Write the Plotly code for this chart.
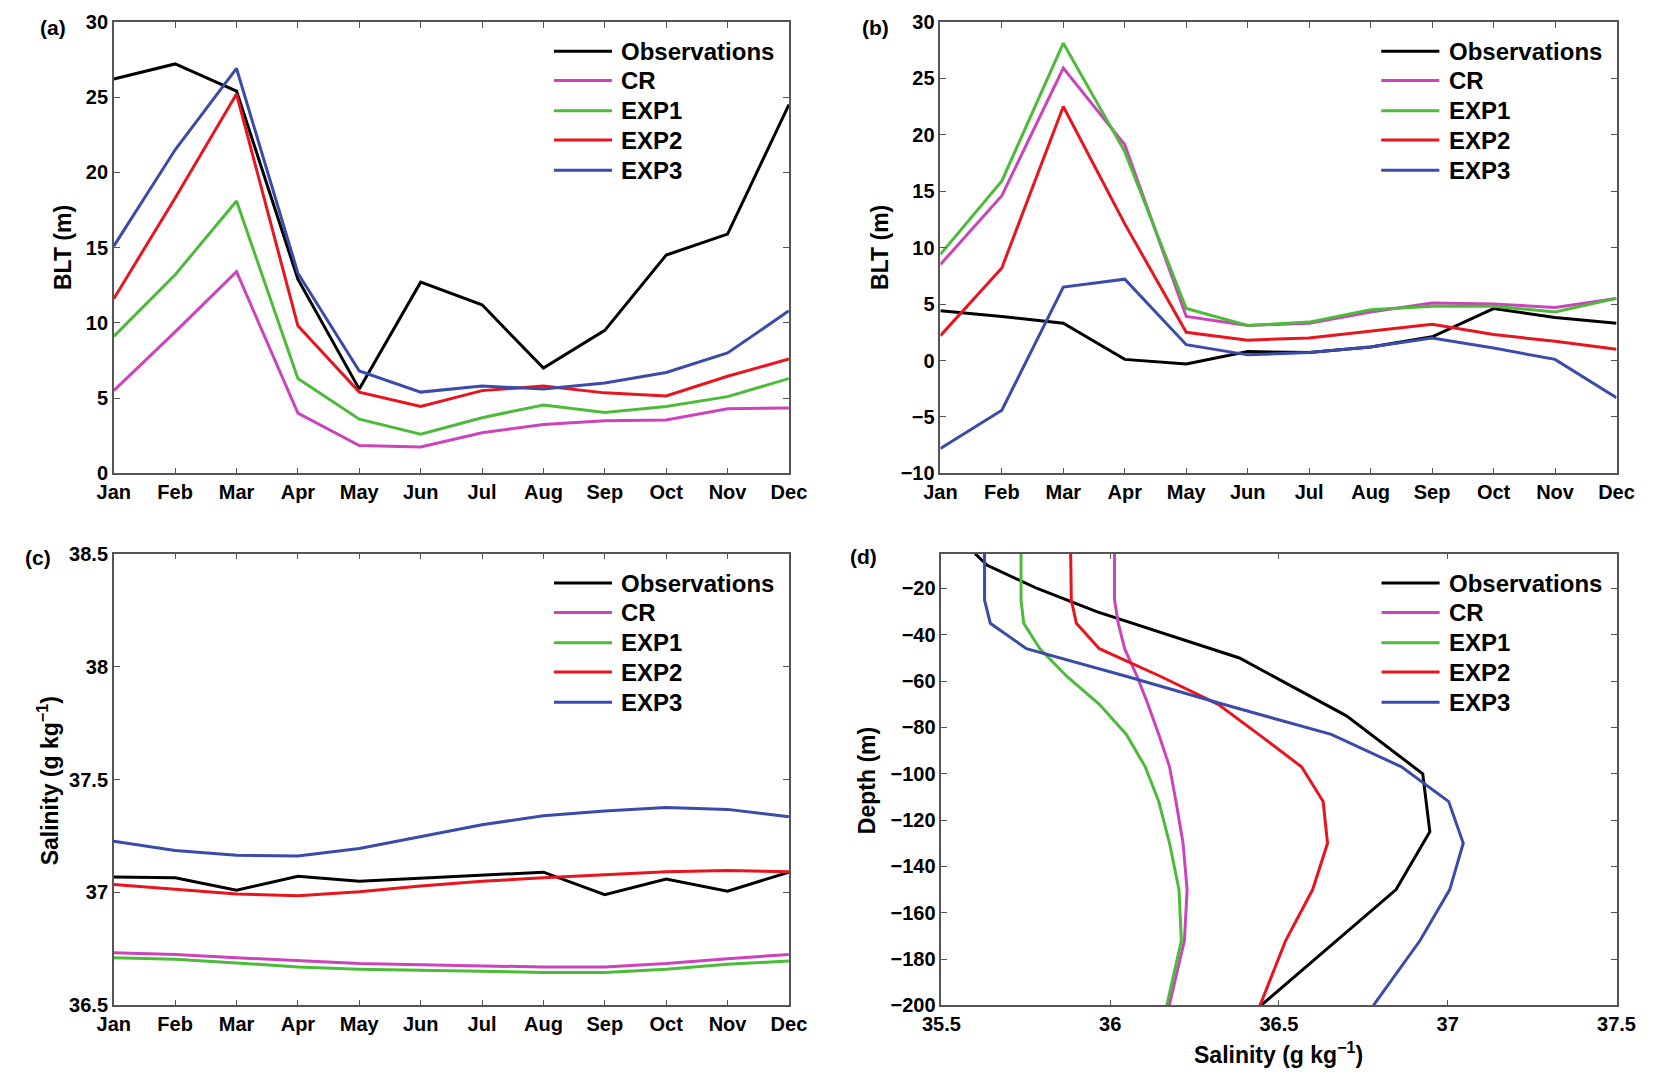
import plotly.graph_objects as go
from plotly.subplots import make_subplots

months = ["Jan", "Feb", "Mar", "Apr", "May", "Jun", "Jul", "Aug", "Sep", "Oct", "Nov", "Dec"]
series_names = ["Observations", "CR", "EXP1", "EXP2", "EXP3"]
colors = ["#000000", "#CC44BB", "#4DBB3A", "#E8141E", "#3A4BAA"]

# (a) BLT (m)
a_obs = [26.2, 27.2, 25.4, 12.9, 5.6, 12.7, 11.2, 7.0, 9.5, 14.5, 15.9, 24.5]
a_cr = [5.5, 9.4, 13.4, 4.0, 1.85, 1.75, 2.7, 3.25, 3.5, 3.55, 4.3, 4.35]
a_exp1 = [9.1, 13.2, 18.1, 6.3, 3.6, 2.6, 3.7, 4.55, 4.05, 4.45, 5.1, 6.3]
a_exp2 = [11.6, 18.3, 25.2, 9.8, 5.4, 4.45, 5.5, 5.8, 5.35, 5.15, 6.45, 7.6]
a_exp3 = [15.1, 21.5, 26.9, 13.3, 6.8, 5.4, 5.8, 5.6, 6.0, 6.7, 8.0, 10.8]

# (b) BLT (m)
b_obs = [4.4, 3.9, 3.3, 0.1, -0.3, 0.8, 0.7, 1.2, 2.1, 4.6, 3.8, 3.3]
b_cr = [8.5, 14.6, 25.9, 19.1, 3.9, 3.1, 3.3, 4.3, 5.1, 5.0, 4.7, 5.5]
b_exp1 = [9.4, 15.9, 28.1, 18.5, 4.6, 3.1, 3.4, 4.5, 4.8, 4.8, 4.3, 5.5]
b_exp2 = [2.2, 8.2, 22.5, 12.1, 2.5, 1.8, 2.0, 2.6, 3.2, 2.3, 1.7, 1.0]
b_exp3 = [-7.8, -4.4, 6.5, 7.2, 1.4, 0.5, 0.7, 1.2, 2.0, 1.1, 0.1, -3.3]

# (c) salinity (g/kg)
c_obs = [37.068, 37.065, 37.01, 37.072, 37.05, 37.064, 37.078, 37.09, 36.99, 37.06, 37.006, 37.09]
c_cr = [36.733, 36.725, 36.711, 36.697, 36.685, 36.68, 36.676, 36.67, 36.67, 36.685, 36.707, 36.725]
c_exp1 = [36.711, 36.704, 36.688, 36.67, 36.66, 36.655, 36.652, 36.646, 36.646, 36.66, 36.682, 36.697]
c_exp2 = [37.035, 37.013, 36.993, 36.986, 37.003, 37.029, 37.05, 37.065, 37.08, 37.092, 37.097, 37.092]
c_exp3 = [37.227, 37.186, 37.165, 37.162, 37.195, 37.249, 37.3, 37.34, 37.361, 37.376, 37.368, 37.335]

# (d) salinity profiles
obs_depth = [-5, -10, -20, -30, -50, -75, -100, -125, -150, -200]
d_obs = [35.60, 35.636, 35.784, 35.96, 36.383, 36.70, 36.926, 36.947, 36.847, 36.447]
model_depth = [-5, -15, -25, -35, -46, -58, -70, -83, -97, -112, -130, -150, -172, -200]
d_cr = [36.013, 36.013, 36.013, 36.024, 36.043, 36.08, 36.112, 36.144, 36.176, 36.195, 36.216, 36.228, 36.22, 36.175]
d_exp1 = [35.736, 35.736, 35.736, 35.744, 35.792, 35.872, 35.968, 36.048, 36.104, 36.144, 36.176, 36.204, 36.211, 36.168]
d_exp2 = [35.883, 35.883, 35.885, 35.90, 35.968, 36.15, 36.32, 36.44, 36.567, 36.631, 36.644, 36.60, 36.52, 36.444]
d_exp3 = [35.628, 35.628, 35.628, 35.645, 35.752, 36.05, 36.335, 36.655, 36.863, 37.003, 37.046, 37.006, 36.918, 36.78]

panel_a = [a_obs, a_cr, a_exp1, a_exp2, a_exp3]
panel_b = [b_obs, b_cr, b_exp1, b_exp2, b_exp3]
panel_c = [c_obs, c_cr, c_exp1, c_exp2, c_exp3]
panel_d = [d_obs, d_cr, d_exp1, d_exp2, d_exp3]

W, H = 1657, 1083
FONT = "Liberation Sans"

fig = make_subplots(rows=2, cols=2)

for row, col, data in [(1, 1, panel_a), (1, 2, panel_b), (2, 1, panel_c)]:
    for name, vals, c in zip(series_names, data, colors):
        fig.add_trace(go.Scatter(x=months, y=vals, mode="lines", name=name,
                                 line=dict(color=c, width=3)), row=row, col=col)

for i, (name, vals, c) in enumerate(zip(series_names, panel_d, colors)):
    depth = obs_depth if i == 0 else model_depth
    fig.add_trace(go.Scatter(x=vals, y=depth, mode="lines", name=name,
                             line=dict(color=c, width=3)), row=2, col=2)

# panel boxes in pixels -> paper domains
def xdom(l, r):
    return [l / W, r / W]

def ydom(t, b):
    return [1 - b / H, 1 - t / H]

axis_style = dict(showline=True, mirror="ticks", linecolor="#555555", linewidth=1.5,
                  ticks="inside", ticklen=6, tickcolor="#555555", showgrid=False,
                  zeroline=False, tickfont=dict(family=FONT, size=20, color="black", weight="bold"))

fig.update_xaxes(**axis_style)
fig.update_yaxes(**axis_style)

fig.update_layout(
    xaxis=dict(domain=xdom(97, 788), range=[0, 11]),
    yaxis=dict(domain=ydom(11, 472), range=[0, 30], dtick=5),
    xaxis2=dict(domain=xdom(943, 1635), range=[0, 11]),
    yaxis2=dict(domain=ydom(11, 472), range=[-10, 30], dtick=5),
    xaxis3=dict(domain=xdom(97, 788), range=[0, 11]),
    yaxis3=dict(domain=ydom(554, 1015), range=[36.5, 38.5], dtick=0.5),
    xaxis4=dict(domain=xdom(944, 1635), range=[35.5, 37.5], dtick=0.5),
    yaxis4=dict(domain=ydom(554, 1015), range=[-200, -5], tick0=-200, dtick=20),
)

# legends drawn inside each panel (top right)
legend_rows = [0.935, 0.870, 0.803, 0.738, 0.671]
for ax in ["x", "x2", "x3", "x4"]:
    yax = ax.replace("x", "y")
    for name, c, yy in zip(series_names, colors, legend_rows):
        fig.add_shape(type="line", xref=f"{ax} domain", yref=f"{yax} domain",
                      x0=0.652, x1=0.738, y0=yy, y1=yy, line=dict(color=c, width=3))
        fig.add_annotation(xref=f"{ax} domain", yref=f"{yax} domain", x=0.749, y=yy,
                           text=name, showarrow=False, xanchor="left", yanchor="middle",
                           font=dict(family=FONT, size=24, color="black", weight="bold"))

# panel letters and axis titles
labels = [("(a)", 35, 17), ("(b)", 877, 17), ("(c)", 19, 558), ("(d)", 864, 557)]
for txt, px, py in labels:
    fig.add_annotation(xref="paper", yref="paper", x=px / W, y=1 - py / H, text=txt,
                       showarrow=False, xanchor="center", yanchor="middle",
                       font=dict(family=FONT, size=21, color="black", weight="bold"))

titles = [("BLT (m)", 45, 241, -90), ("BLT (m)", 881, 241, -90),
          ("Salinity (g kg<sup>−1</sup>)", 30, 786, -90), ("Depth (m)", 868, 786, -90),
          ("Salinity (g kg<sup>−1</sup>)", 1289, 1064, 0)]
for txt, px, py, ang in titles:
    fig.add_annotation(xref="paper", yref="paper", x=px / W, y=1 - py / H, text=txt,
                       showarrow=False, xanchor="center", yanchor="middle", textangle=ang,
                       font=dict(family=FONT, size=23, color="black", weight="bold"))

fig.update_layout(
    width=W, height=H, showlegend=False,
    margin=dict(l=0, r=0, t=0, b=0),
    paper_bgcolor="white", plot_bgcolor="white",
    font=dict(family=FONT, color="black"),
)

# drop the default page margin so the figure sits at the window's origin
fig.write_html("out.html", config={"displayModeBar": False},
               post_script="document.body.style.margin='0';")
